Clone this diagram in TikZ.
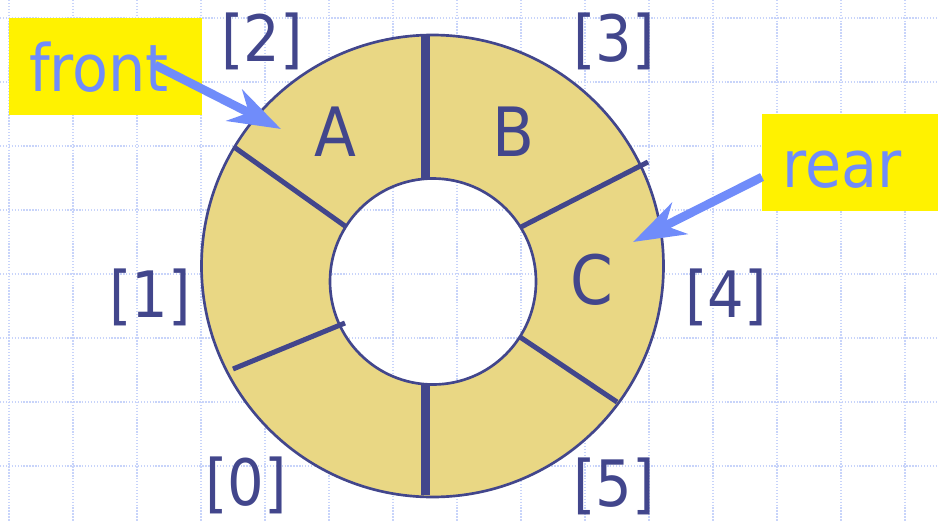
\documentclass[tikz,border=0pt]{standalone}
\usepackage{fontspec}
\setmainfont{DejaVu Sans Condensed}
\usetikzlibrary{arrows.meta}
\definecolor{SlotNavy}{RGB}{66,70,140}
\definecolor{RingGold}{RGB}{233,215,132}
\definecolor{PointerBlue}{RGB}{112,140,250}
\definecolor{GridBlue}{RGB}{200,212,250}

\begin{document}
\begin{tikzpicture}[x=0.75pt, y=-0.75pt,
  idx/.style={font=\fontsize{48}{56}\selectfont, text=SlotNavy, inner sep=0pt},
  slot/.style={font=\fontsize{51}{58}\selectfont, text=SlotNavy, inner sep=0pt},
  tag/.style={fill=yellow, text=PointerBlue, font=\fontsize{49}{56}\selectfont, anchor=north west,
    inner xsep=15pt, inner ysep=0pt, minimum height=72.75pt, text height=37pt, text depth=0pt, align=left},
  pointer/.style={PointerBlue, line width=6.5pt, -{Stealth[length=39pt, width=26pt, inset=12pt]}},
  divider/.style={SlotNavy, line width=3.75pt}]
  \useasboundingbox (0,0) rectangle (938,521);
  % background grid
  \foreach \gx in {0,...,14}
    \draw[GridBlue, line width=1pt, dash pattern=on 1pt off 1.2pt] (9+64*\gx,0) -- (9+64*\gx,521);
  \foreach \gy in {0,...,7}
    \draw[GridBlue, line width=1pt, dash pattern=on 1pt off 1.2pt] (0,18+64*\gy) -- (938,18+64*\gy);

  \node[tag, text width=114.75pt] (front) at (9,18) {front};
  \node[tag, text width=102pt] (rear) at (762,114) {rear};

  % the ring
  \fill[RingGold, even odd rule] (432.5,266) circle[radius=231] (433,281.5) circle[radius=103];
  \draw[divider, line width=6.75pt] (425,36) -- (425,180);
  \draw[divider, line width=6.75pt] (425,383) -- (425,495);
  \draw[divider] (234,147) -- (345,226);
  \draw[divider] (233,369) -- (345,323);
  \draw[divider] (648,162) -- (521,227);
  \draw[divider] (617,402) -- (520,337);
  \draw[SlotNavy, line width=2pt] (432.5,266) circle[radius=231];
  \draw[SlotNavy, line width=2pt] (433,281.5) circle[radius=103];

  \node[slot] (slotA) at (335,132) {A};
  \node[slot] (slotB) at (513,132) {B};
  \node[slot] (slotC) at (592,280) {C};

  \node[idx] (i0) at (246,485) {[0]};
  \node[idx] (i1) at (150,297) {[1]};
  \node[idx] (i2) at (262,41) {[2]};
  \node[idx] (i3) at (614,41) {[3]};
  \node[idx] (i4) at (726,297) {[4]};
  \node[idx] (i5) at (614,486) {[5]};

  \coordinate (fronttail) at (155,65);
  \coordinate (fronttip) at (281,129);
  \coordinate (reartail) at (762,177);
  \coordinate (reartip) at (633,242);
  \draw[pointer] (fronttail) -- (fronttip);
  \draw[pointer] (reartail) -- (reartip);
\end{tikzpicture}
\end{document}
